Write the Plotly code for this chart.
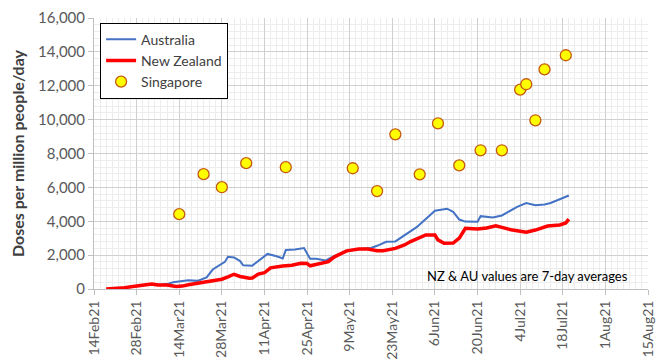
import plotly.graph_objects as go

au_dates = ["2021-02-22","2021-02-24","2021-02-28","2021-03-04","2021-03-08","2021-03-10","2021-03-12","2021-03-14",
            "2021-03-17","2021-03-20","2021-03-23","2021-03-25","2021-03-27","2021-03-29","2021-03-30","2021-04-01",
            "2021-04-03","2021-04-04","2021-04-07","2021-04-09","2021-04-12","2021-04-15","2021-04-17","2021-04-18",
            "2021-04-21","2021-04-24","2021-04-26","2021-04-28","2021-05-01","2021-05-03","2021-05-05","2021-05-08",
            "2021-05-12","2021-05-16","2021-05-18","2021-05-21","2021-05-24","2021-05-26","2021-05-28","2021-05-31",
            "2021-06-02","2021-06-04","2021-06-06","2021-06-08","2021-06-10","2021-06-12","2021-06-14","2021-06-16",
            "2021-06-20","2021-06-21","2021-06-23","2021-06-25","2021-06-28","2021-07-01","2021-07-03","2021-07-06",
            "2021-07-09","2021-07-12","2021-07-14","2021-07-17","2021-07-20"]
au_values = [10,60,170,260,250,290,400,450,
             520,480,690,1150,1380,1600,1900,1860,
             1650,1400,1380,1650,2070,1930,1800,2300,
             2330,2420,1780,1780,1680,1870,2020,2240,
             2360,2420,2550,2790,2810,3050,3300,3650,
             3970,4300,4620,4680,4740,4560,4100,3980,
             3970,4300,4280,4220,4340,4650,4850,5080,
             4940,4990,5080,5300,5520]

nz_dates = ["2021-02-18","2021-02-22","2021-02-24","2021-02-28","2021-03-02","2021-03-05","2021-03-07","2021-03-10",
            "2021-03-13","2021-03-15","2021-03-17","2021-03-21","2021-03-24","2021-03-26","2021-03-28","2021-03-30",
            "2021-04-01","2021-04-03","2021-04-06","2021-04-07","2021-04-09","2021-04-11","2021-04-13","2021-04-17",
            "2021-04-20","2021-04-23","2021-04-25","2021-04-26","2021-04-29","2021-05-02","2021-05-04","2021-05-08",
            "2021-05-12","2021-05-15","2021-05-18","2021-05-20","2021-05-24","2021-05-27","2021-05-29","2021-05-31",
            "2021-06-03","2021-06-06","2021-06-07","2021-06-09","2021-06-12","2021-06-14","2021-06-16","2021-06-20",
            "2021-06-23","2021-06-26","2021-06-29","2021-07-01","2021-07-06","2021-07-09","2021-07-13","2021-07-17",
            "2021-07-19","2021-07-20"]
nz_values = [0,20,80,180,220,300,240,240,
             150,170,250,370,450,500,580,720,
             870,740,630,650,880,960,1250,1360,
             1400,1520,1500,1370,1500,1610,1900,2250,
             2360,2360,2260,2260,2400,2600,2800,2950,
             3190,3190,2900,2700,2710,3000,3580,3540,
             3600,3730,3580,3500,3350,3480,3720,3780,
             3900,4120]

sg_dates = ["2021-03-14","2021-03-22","2021-03-28","2021-04-05","2021-04-18","2021-05-10","2021-05-18","2021-05-24",
            "2021-06-01","2021-06-07","2021-06-14","2021-06-21","2021-06-28","2021-07-04","2021-07-06","2021-07-09",
            "2021-07-12","2021-07-19"]
sg_values = [4420,6780,6010,7430,7190,7130,5780,9130,
             6770,9780,7300,8190,8190,11770,12090,9960,
             12970,13800]

tick_dates = ["2021-02-14","2021-02-28","2021-03-14","2021-03-28","2021-04-11","2021-04-25","2021-05-09",
              "2021-05-23","2021-06-06","2021-06-20","2021-07-04","2021-07-18","2021-08-01","2021-08-15"]
tick_labels = ["14Feb21","28Feb21","14Mar21","28Mar21","11Apr21","25Apr21","9May21",
               "23May21","6Jun21","20Jun21","4Jul21","18Jul21","1Aug21","15Aug21"]

FONT = "Lato"

fig = go.Figure()
fig.add_trace(go.Scatter(x=au_dates, y=au_values, mode="lines", name="Australia",
                         line=dict(color="#4472C4", width=2)))
fig.add_trace(go.Scatter(x=nz_dates, y=nz_values, mode="lines", name="New Zealand",
                         line=dict(color="#FF0000", width=3.5)))
fig.add_trace(go.Scatter(x=sg_dates, y=sg_values, mode="markers", name="Singapore",
                         marker=dict(color="#FFFF00", size=11, line=dict(color="#C55A11", width=1.3))))

fig.update_layout(
    width=660, height=355,
    margin=dict(l=86, r=20, t=10, b=74, autoexpand=False),
    paper_bgcolor="white", plot_bgcolor="white",
    font=dict(family=FONT, size=14, color="#595959"),
    showlegend=True,
    legend=dict(x=0.011, y=0.983, xanchor="left", yanchor="top",
                bgcolor="white", bordercolor="black", borderwidth=1,
                font=dict(family=FONT, size=14, color="#404040"),
                tracegroupgap=0, itemwidth=30),
    annotations=[dict(text="NZ & AU values are 7-day averages", xref="paper", yref="paper",
                      x=0.968, y=0.048, xanchor="right", yanchor="middle", showarrow=False,
                      font=dict(family=FONT, size=13, color="#000000"))],
)

fig.update_xaxes(
    type="date", range=["2021-02-14", "2021-08-15"],
    tickmode="array", tickvals=tick_dates, ticktext=tick_labels, tickangle=-90,
    tickfont=dict(family=FONT, size=14, color="#595959"),
    showgrid=True, gridcolor="#D0D0D0", gridwidth=1,
    minor=dict(dtick=2 * 86400000, tick0="2021-02-14", showgrid=True, gridcolor="#EDEDED", gridwidth=1),
    showline=True, linecolor="#BFBFBF", linewidth=1,
    ticks="outside", ticklen=5, tickcolor="#BFBFBF",
    zeroline=False,
)
fig.update_yaxes(
    range=[0, 16000], dtick=2000, tickformat=",",
    tickfont=dict(family=FONT, size=15, color="#595959"),
    showgrid=True, gridcolor="#D0D0D0", gridwidth=1,
    minor=dict(dtick=400, showgrid=True, gridcolor="#EDEDED", gridwidth=1),
    showline=True, linecolor="#BFBFBF", linewidth=1,
    ticks="outside", ticklen=5, tickcolor="#BFBFBF",
    zeroline=False,
    title=dict(text="<b>Doses per million people/day</b>", standoff=10,
               font=dict(family=FONT, size=16, color="#404040")),
)

fig.write_html("out.html")
